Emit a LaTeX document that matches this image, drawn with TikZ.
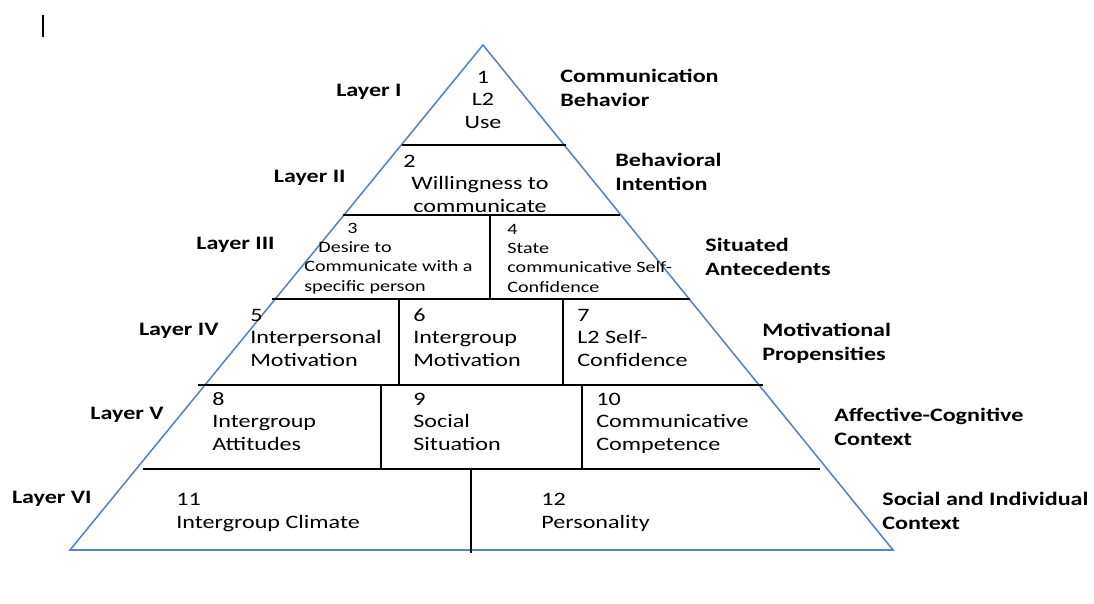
\documentclass[tikz,border=0pt]{standalone}
\usepackage{fontspec}
\setmainfont{Carlito}[FakeStretch=1.27]
\usepackage{xcolor}
\definecolor{pyrblue}{RGB}{92,132,184}
\tikzset{
  cell/.style={font=\fontsize{10.8}{12.6}\selectfont, align=left, anchor=base west, inner sep=0pt},
  smallcell/.style={font=\fontsize{9}{11}\selectfont, align=left, anchor=base west, inner sep=0pt},
  layer/.style={font=\fontsize{10.8}{13.6}\selectfont\bfseries, anchor=base east, inner sep=0pt},
  ctx/.style={font=\fontsize{10.8}{13.6}\selectfont\bfseries, align=left, anchor=base west, inner sep=0pt},
  divider/.style={black, line width=0.8pt}
}
\begin{document}
\begin{tikzpicture}[x=0.02cm, y=-0.02cm]
\useasboundingbox (0,0) rectangle (1094,603);
\draw[black, line width=1.1pt] (43,15) -- (43,37);
\draw[pyrblue, line width=0.9pt] (483,45) -- (893,550) -- (70,550) -- cycle;
\draw[divider] (402,145) -- (566,145);
\draw[divider] (343,215) -- (620,215);
\draw[divider] (272,299) -- (690,299);
\draw[divider] (198,385) -- (763,385);
\draw[divider] (143,469) -- (820,469);
\draw[divider] (490,215) -- (490,299);
\draw[divider] (399,299) -- (399,385);
\draw[divider] (563,299) -- (563,385);
\draw[divider] (381,385) -- (381,469);
\draw[divider] (582,385) -- (582,469);
\draw[divider] (471,469) -- (471,553);
\node[cell, anchor=base, align=center] (c1) at (483,128) {1\\L2\\Use};
\node[cell] (n2) at (403,167) {2};
\node[cell, anchor=base, align=center] (c2) at (480,212) {Willingness to\\communicate};
\node[smallcell] (n3) at (347,233) {3};
\node[smallcell] (c3) at (304,291) {\hspace*{8pt}Desire to\\Communicate with a\\specific person};
\node[smallcell] (c4) at (507,292) {4\\State\\communicative Self-\\Confidence};
\node[cell] (c5) at (250,366) {5\\Interpersonal\\Motivation};
\node[cell] (c6) at (413,366) {6\\Intergroup\\Motivation};
\node[cell] (c7) at (577,366) {7\\L2 Self-\\Confidence};
\node[cell] (c8) at (212,450) {8\\Intergroup\\Attitudes};
\node[cell] (c9) at (413,450) {9\\Social\\Situation};
\node[cell] (c10) at (596,450) {10\\Communicative\\Competence};
\node[cell] (c11) at (176,528) {11\\Intergroup Climate};
\node[cell] (c12) at (541,528) {12\\Personality};
\node[layer] (l1) at (402,96) {Layer I};
\node[layer] (l2) at (346,182) {Layer II};
\node[layer] (l3) at (275,249) {Layer III};
\node[layer] (l4) at (219,335) {Layer IV};
\node[layer] (l5) at (164,419) {Layer V};
\node[layer] (l6) at (92,503) {Layer VI};
\node[ctx] (k1) at (560,106) {Communication\\Behavior};
\node[ctx] (k2) at (615,190) {Behavioral\\Intention};
\node[ctx] (k3) at (705,275) {Situated\\Antecedents};
\node[ctx] (k4) at (762,360) {Motivational\\Propensities};
\node[ctx] (k5) at (834,445) {Affective-Cognitive\\Context};
\node[ctx] (k6) at (882,529) {Social and Individual\\Context};
\end{tikzpicture}
\end{document}
